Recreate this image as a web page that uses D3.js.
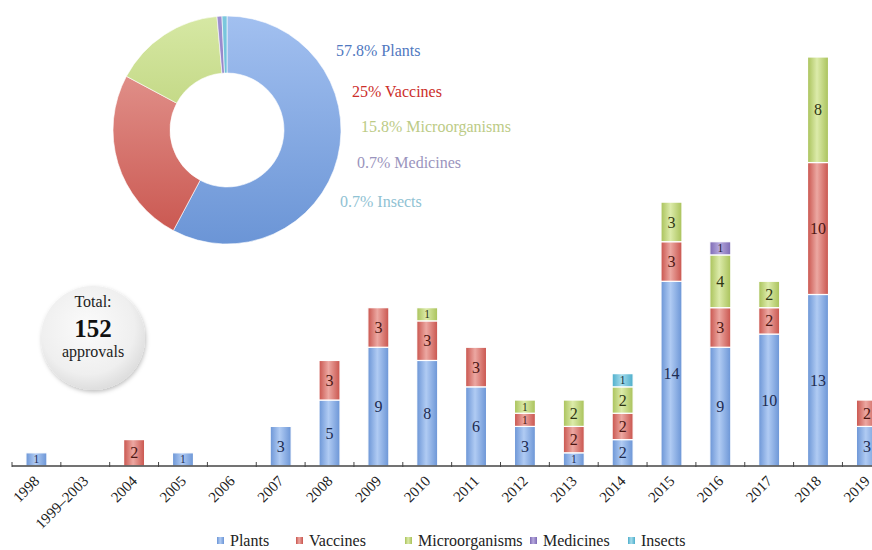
<!DOCTYPE html>
<html>
<head>
<meta charset="utf-8">
<script src="https://cdn.jsdelivr.net/npm/d3@7"></script>
<style>
  body { margin: 0; background: #fff; }
  svg, svg text { font-family: "Liberation Serif", "Times New Roman", Times, "DejaVu Serif", "Noto Serif", FreeSerif, Georgia, serif; }
</style>
</head>
<body>
<div id="chart"></div>
<script>
// Approvals per year, by category
const categories = ["1998", "1999–2003", "2004", "2005", "2006", "2007", "2008", "2009", "2010",
  "2011", "2012", "2013", "2014", "2015", "2016", "2017", "2018", "2019"];
const plants         = [1, 0, 0, 1, 0, 3, 5, 9, 8, 6, 3, 1, 2, 14, 9, 10, 13, 3];
const vaccines       = [0, 0, 2, 0, 0, 0, 3, 3, 3, 3, 1, 2, 2, 3, 3, 2, 10, 2];
const microorganisms = [0, 0, 0, 0, 0, 0, 0, 0, 1, 0, 1, 2, 2, 3, 4, 2, 8, 0];
const medicines      = [0, 0, 0, 0, 0, 0, 0, 0, 0, 0, 0, 0, 0, 0, 1, 0, 0, 0];
const insects        = [0, 0, 0, 0, 0, 0, 0, 0, 0, 0, 0, 0, 1, 0, 0, 0, 0, 0];

const seriesNames = ["Plants", "Vaccines", "Microorganisms", "Medicines", "Insects"];
const sharePct = [57.8, 25, 15.8, 0.7, 0.7];
const shareLabels = ["57.8% Plants", "25% Vaccines", "15.8% Microorganisms", "0.7% Medicines", "0.7% Insects"];
const total = 152;

const colors = {
  Plants:         { dark: "#6b95d6", light: "#b0cbf3", pieTop: "#a2c0f0", text: "#1d2c52", label: "#4f78c0" },
  Vaccines:       { dark: "#c9544d", light: "#eca8a2", pieTop: "#e8a39d", text: "#4d1612", label: "#cc2e2a" },
  Microorganisms: { dark: "#a9c25a", light: "#dcebaa", pieTop: "#d6e8a4", text: "#2f3512", label: "#bccb86" },
  Medicines:      { dark: "#7d6ab4", light: "#b7aade", pieTop: "#9e8fd0", text: "#1f1836", label: "#9a94bd" },
  Insects:        { dark: "#4daecb", light: "#a5dcec", pieTop: "#7cc8de", text: "#11323c", label: "#8fc2d3" }
};

const width = 872, height = 550;
const svg = d3.select("#chart").append("svg")
  .attr("width", width).attr("height", height);
const defs = svg.append("defs");

// horizontal gradients for the bars, vertical ones for the donut
seriesNames.forEach((s, i) => {
  const g = defs.append("linearGradient").attr("id", "bar" + i).attr("x1", 0).attr("x2", 1).attr("y1", 0).attr("y2", 0);
  g.append("stop").attr("offset", "0%").attr("stop-color", colors[s].dark);
  g.append("stop").attr("offset", "45%").attr("stop-color", colors[s].light);
  g.append("stop").attr("offset", "100%").attr("stop-color", colors[s].dark);

  const p = defs.append("linearGradient").attr("id", "pie" + i)
    .attr("gradientUnits", "userSpaceOnUse").attr("x1", 0).attr("x2", 0).attr("y1", -114).attr("y2", 114);
  p.append("stop").attr("offset", "0%").attr("stop-color", colors[s].pieTop);
  p.append("stop").attr("offset", "100%").attr("stop-color", colors[s].dark);
});

const bubble = defs.append("radialGradient").attr("id", "bubble").attr("cx", "45%").attr("cy", "40%").attr("r", "60%");
bubble.append("stop").attr("offset", "0%").attr("stop-color", "#fbfbfb");
bubble.append("stop").attr("offset", "75%").attr("stop-color", "#efefef");
bubble.append("stop").attr("offset", "100%").attr("stop-color", "#dedede");
const shadow = defs.append("filter").attr("id", "shadow").attr("x", "-30%").attr("y", "-30%").attr("width", "160%").attr("height", "160%");
shadow.append("feDropShadow").attr("dx", 1).attr("dy", 2).attr("stdDeviation", 2).attr("flood-color", "#000").attr("flood-opacity", 0.25);

// scales
const x = d3.scaleBand().domain(categories).range([12, 12 + 18 * 48.85]).padding(0);
const y = d3.scaleLinear().domain([0, 31]).range([466, 57]);
const barW = 21;

const table = categories.map((c, i) => ({
  category: c,
  Plants: plants[i], Vaccines: vaccines[i], Microorganisms: microorganisms[i],
  Medicines: medicines[i], Insects: insects[i]
}));
const stacked = d3.stack().keys(seriesNames)(table);

// bars
const layers = svg.append("g").selectAll("g").data(stacked).enter().append("g")
  .attr("fill", (d, i) => `url(#bar${i})`);

layers.selectAll("rect")
  .data(d => d.map(v => ({ v, key: d.key })))
  .enter().filter(d => d.v[1] - d.v[0] > 0)
  .append("rect")
  .attr("x", d => x(d.v.data.category) + (x.bandwidth() - barW) / 2)
  .attr("y", d => y(d.v[1]))
  .attr("width", barW)
  .attr("height", d => y(d.v[0]) - y(d.v[1]))
  .attr("stroke", "#fff")
  .attr("stroke-width", 1.2);

layers.selectAll("text")
  .data(d => d.map(v => ({ v, key: d.key })))
  .enter().filter(d => d.v[1] - d.v[0] > 0)
  .append("text")
  .attr("x", d => x(d.v.data.category) + x.bandwidth() / 2)
  .attr("y", d => (y(d.v[0]) + y(d.v[1])) / 2)
  .attr("dy", "0.35em")
  .attr("text-anchor", "middle")
  .attr("font-size", d => (d.v[1] - d.v[0]) === 1 ? "11.5px" : "16px")
  .attr("fill", d => colors[d.key].text)
  .text(d => d.v[1] - d.v[0]);

// x axis with inside ticks
const axis = svg.append("g").attr("transform", `translate(0,${y(0)})`);
axis.append("line").attr("x1", 12).attr("x2", width).attr("stroke", "#444").attr("stroke-width", 1.3);
axis.selectAll(".tick").data(categories).enter().append("line")
  .attr("x1", d => x(d)).attr("x2", d => x(d))
  .attr("y1", 1).attr("y2", -4).attr("stroke", "#444");
axis.selectAll(".lbl").data(categories).enter().append("text")
  .attr("transform", d => `translate(${x(d) + x.bandwidth() / 2 + 4},${16}) rotate(-45)`)
  .attr("text-anchor", "end")
  .attr("font-size", "15px")
  .attr("fill", "#222")
  .text(d => d);

// donut
const cx = 227, cy = 130;
const pie = d3.pie().sort(null).startAngle(0).endAngle(2 * Math.PI);
const arc = d3.arc().innerRadius(57).outerRadius(114);
const donut = svg.append("g").attr("transform", `translate(${cx},${cy})`);
donut.selectAll("path").data(pie(sharePct)).enter().append("path")
  .attr("d", arc)
  .attr("fill", (d, i) => `url(#pie${i})`)
  .attr("stroke", "#fff")
  .attr("stroke-width", 0.6);

// donut labels
const labelPos = [[336, 56], [352, 97], [361, 132], [357, 168], [340, 207]];
svg.append("g").selectAll("text").data(shareLabels).enter().append("text")
  .attr("x", (d, i) => labelPos[i][0])
  .attr("y", (d, i) => labelPos[i][1])
  .attr("font-size", "16px")
  .attr("fill", (d, i) => colors[seriesNames[i]].label)
  .text(d => d);

// total bubble
const tb = svg.append("g").attr("transform", "translate(93,338)");
tb.append("circle").attr("r", 52).attr("fill", "url(#bubble)").attr("filter", "url(#shadow)");
tb.append("text").attr("y", -31).attr("text-anchor", "middle").attr("font-size", "16px").attr("fill", "#222").text("Total:");
tb.append("text").attr("y", -1).attr("text-anchor", "middle").attr("font-size", "25px").attr("font-weight", "bold").attr("fill", "#111").text(total);
tb.append("text").attr("y", 19).attr("text-anchor", "middle").attr("font-size", "16px").attr("fill", "#222").text("approvals");

// legend
const legendX = [217, 296, 405, 530, 628];
const legend = svg.append("g").selectAll("g").data(seriesNames).enter().append("g")
  .attr("transform", (d, i) => `translate(${legendX[i]},541)`);
legend.append("rect").attr("x", 0).attr("y", -4).attr("width", 7).attr("height", 7)
  .attr("fill", (d, i) => `url(#bar${i})`);
legend.append("text").attr("x", 13).attr("y", 5).attr("font-size", "16px").attr("fill", "#222").text(d => d);
</script>
</body>
</html>
